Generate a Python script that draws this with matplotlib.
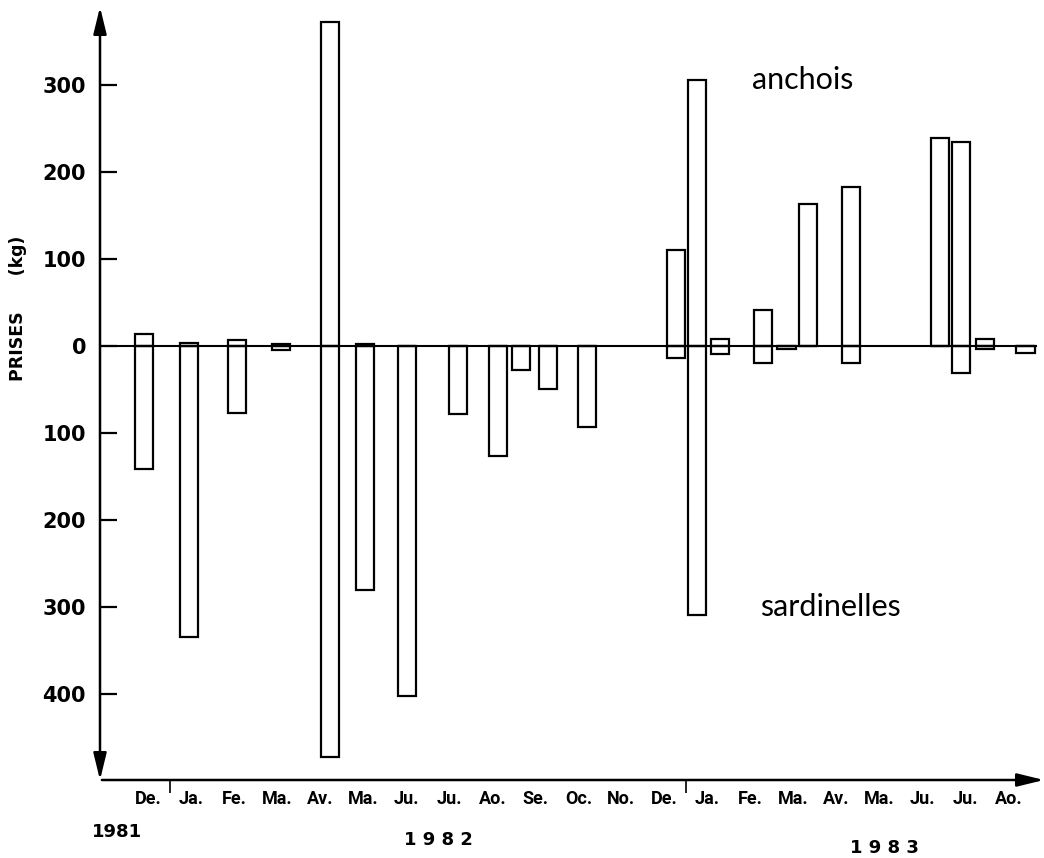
import matplotlib.pyplot as plt

# sampling dates in month units (1.0 = 1 Jan 1982, 13.0 = 1 Jan 1983)
dates = [0.40, 1.44, 2.55, 3.58, 4.72, 5.53, 6.52, 7.70, 8.63, 9.17, 9.79, 10.70,
         12.76, 13.26, 13.79, 14.80, 15.34, 15.84, 16.85, 18.90, 19.40, 19.95, 20.90]
# catches in kg, anchois plotted upwards, sardinelles downwards
anchois = [14, 3, 7, 2, 372, 2, 0, 0, 0, 0, 0, 0,
           110, 306, 8, 41, 0, 163, 183, 239, 234, 8, 0]
sardinelles = [141, 335, 77, 5, 473, 280, 402, 78, 126, 28, 50, 93,
               14, 309, 9, 20, 4, 0, 20, 0, 31, 3, 8]

months = ["De.", "Ja.", "Fe.", "Ma.", "Av.", "Ma.", "Ju.", "Ju.", "Ao.", "Se.", "Oc.", "No.",
          "De.", "Ja.", "Fe.", "Ma.", "Av.", "Ma.", "Ju.", "Ju.", "Ao."]
years = ["1981", "1 9 8 2", "1 9 8 3"]
year_breaks = [1, 13]
ytick_vals = [300, 200, 100, 0, -100, -200, -300, -400]

W, H = 1044, 858
fig = plt.figure(figsize=(W / 100, H / 100), dpi=100)
ax = fig.add_axes([100 / W, 1 - 780 / H, 944 / W, 773 / H])
ax.set_xlim(-0.628, 21.33)
ax.set_ylim(-498.9, 389.7)
for s in ax.spines.values():
    s.set_visible(False)

# bars: open rectangles
ax.bar(dates, anchois, width=0.42, fill=False, edgecolor="black", linewidth=1.6)
ax.bar(dates, [-v for v in sardinelles], width=0.42, fill=False,
       edgecolor="black", linewidth=1.6)
ax.axhline(0, xmax=0.992, color="black", linewidth=1.5)

# axes drawn as arrows
ax.annotate("", xy=(0, 1), xytext=(0, 0), xycoords="axes fraction",
            arrowprops=dict(arrowstyle="<|-|>,head_length=0.9,head_width=0.22",
                            lw=1.8, color="black", shrinkA=0, shrinkB=0,
                            mutation_scale=18))
ax.annotate("", xy=(1, 0), xytext=(0.002, 0), xycoords="axes fraction",
            arrowprops=dict(arrowstyle="-|>,head_length=0.9,head_width=0.22",
                            lw=1.8, color="black", shrinkA=0, shrinkB=0,
                            mutation_scale=18))

# y ticks
ax.set_yticks(ytick_vals, labels=[str(abs(v)) for v in ytick_vals],
              fontsize=15, fontweight="semibold")
ax.tick_params(axis="y", direction="in", length=12, width=1.6, pad=10)

# month labels and year break ticks
ax.set_xticks([i + 0.5 for i in range(len(months))], labels=months,
              fontsize=13, fontweight="bold", family="Roboto")
ax.tick_params(axis="x", which="major", length=0, pad=7)
ax.set_xticks(year_breaks, minor=True)
ax.tick_params(axis="x", which="minor", direction="out", length=9, width=1.2)

# years under the axis
for txt, (x, y) in zip(years, [(117, 832), (438, 840), (884, 848)]):
    fig.text(x / W, 1 - y / H, txt, ha="center", va="center", fontsize=13,
             fontweight="bold")

fig.text(18 / W, 1 - 308 / H, "PRISES      (kg)", rotation=90, ha="center",
         va="center", fontsize=12.5, fontweight="semibold")
fig.text(803 / W, 1 - 80 / H, "anchois", ha="center", va="center",
         fontsize=22, family="Lato")
fig.text(830 / W, 1 - 607 / H, "sardinelles", ha="center", va="center",
         fontsize=22, family="Lato")

fig.savefig("out.png", dpi=100, facecolor="white")
